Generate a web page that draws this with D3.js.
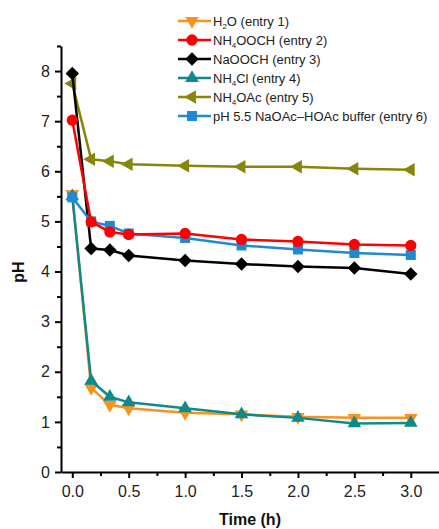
<!DOCTYPE html>
<html lang="en">
<head>
    <meta charset="UTF-8">
    <title>pH vs time</title>
    <style>
        body { margin: 0; background: #fff; }
        svg { display: block; font-family: "Liberation Sans", Arial, sans-serif; }
        .axis path, .axis line { stroke: #000; stroke-width: 2px; }
        .axis text { font-size: 16px; fill: #222; }
        .title { font-size: 16px; font-weight: bold; fill: #111; }
        .legend text { font-size: 13px; fill: #222; }
        .series path.line { fill: none; stroke-width: 2.5px; }
    </style>
</head>
<body>
<div id="chart"></div>
<script src="https://cdn.jsdelivr.net/npm/d3@7"></script>
<script>
    // time points (h)
    const times = [0, 0.167, 0.333, 0.5, 1, 1.5, 2, 2.5, 3];

    // pH values
    const h2o = [5.55, 1.68, 1.34, 1.27, 1.18, 1.15, 1.1, 1.08, 1.08];
    const nh4ooch = [7.02, 4.99, 4.79, 4.74, 4.76, 4.64, 4.6, 4.54, 4.52];
    const naooch = [7.95, 4.46, 4.43, 4.32, 4.22, 4.15, 4.1, 4.07, 3.95];
    const nh4cl = [5.5, 1.82, 1.5, 1.39, 1.27, 1.15, 1.08, 0.97, 0.98];
    const nh4oac = [7.75, 6.24, 6.2, 6.14, 6.11, 6.09, 6.09, 6.05, 6.03];
    const buffer = [5.48, 5.0, 4.91, 4.76, 4.67, 4.52, 4.44, 4.37, 4.33];

    const xTicks = [0, 0.5, 1, 1.5, 2, 2.5, 3];
    const yTicks = [0, 1, 2, 3, 4, 5, 6, 7, 8];

    // legend order; drawing order below
    const series = [
        {name: [["H"], ["2", true], ["O (entry 1)"]], values: h2o, color: "#f7931e", shape: "down"},
        {name: [["NH"], ["4", true], ["OOCH (entry 2)"]], values: nh4ooch, color: "#ff0000", shape: "circle"},
        {name: [["NaOOCH (entry 3)"]], values: naooch, color: "#000000", shape: "diamond"},
        {name: [["NH"], ["4", true], ["Cl (entry 4)"]], values: nh4cl, color: "#0f8a8a", shape: "up"},
        {name: [["NH"], ["4", true], ["OAc (entry 5)"]], values: nh4oac, color: "#86860a", shape: "left"},
        {name: [["pH 5.5 NaOAc\u2013HOAc buffer (entry 6)"]], values: buffer, color: "#1f8ad2", shape: "square"}
    ];
    const drawOrder = [0, 3, 4, 2, 5, 1];

    const width = 439, height = 529;
    const svg = d3.select("#chart").append("svg")
        .attr("width", width)
        .attr("height", height);

    const x = d3.scaleLinear().domain([-0.1, 3.25]).range([61, 439]);
    const y = d3.scaleLinear().domain([0, 8.5]).range([472, 46]);

    function symbolPath(shape) {
        if (shape === "circle") return d3.symbol(d3.symbolCircle, 100)();
        if (shape === "square") return d3.symbol(d3.symbolSquare, 100)();
        if (shape === "diamond") return d3.symbol(d3.symbolSquare, 90)();
        return d3.symbol(d3.symbolTriangle, 80)();
    }
    function symbolRotate(shape) {
        if (shape === "down") return 180;
        if (shape === "left") return -90;
        if (shape === "diamond") return 45;
        return 0;
    }

    // minor ticks first, then major axis
    const xMinor = [0.25, 0.75, 1.25, 1.75, 2.25, 2.75];
    const yMinor = d3.range(0.5, 8.51, 1);

    svg.append("g")
        .attr("class", "axis")
        .attr("transform", "translate(0,472)")
        .call(d3.axisBottom(x).tickValues(xMinor).tickSize(4).tickFormat(""))
        .select(".domain").remove();
    svg.append("g")
        .attr("class", "axis")
        .attr("transform", "translate(61,0)")
        .call(d3.axisLeft(y).tickValues(yMinor).tickSize(4).tickFormat(""))
        .select(".domain").remove();

    svg.append("g")
        .attr("class", "axis")
        .attr("transform", "translate(0,472)")
        .call(d3.axisBottom(x).tickValues(xTicks).tickSize(6).tickSizeOuter(0).tickPadding(8).tickFormat(d3.format(".1f")));
    svg.append("g")
        .attr("class", "axis")
        .attr("transform", "translate(61,0)")
        .call(d3.axisLeft(y).tickValues(yTicks).tickSize(6).tickSizeOuter(0).tickPadding(5).tickFormat(d3.format("d")));

    // series
    const line = d3.line()
        .x((d, i) => x(times[i]))
        .y(d => y(d));

    drawOrder.forEach(k => {
        const s = series[k];
        const g = svg.append("g").attr("class", "series");
        g.append("path")
            .attr("class", "line")
            .attr("stroke", s.color)
            .attr("d", line(s.values));
        g.selectAll("path.mark")
            .data(s.values)
            .enter()
            .append("path")
            .attr("class", "mark")
            .attr("fill", s.color)
            .attr("d", symbolPath(s.shape))
            .attr("transform", (d, i) => "translate(" + x(times[i]) + "," + y(d) + ") rotate(" + symbolRotate(s.shape) + ")");
    });

    // axis titles
    svg.append("text")
        .attr("class", "title")
        .attr("x", 250)
        .attr("y", 525)
        .attr("text-anchor", "middle")
        .text("Time (h)");
    svg.append("text")
        .attr("class", "title")
        .attr("transform", "translate(24,272) rotate(-90)")
        .attr("text-anchor", "middle")
        .text("pH");

    // legend
    const legend = svg.append("g").attr("class", "legend");
    series.forEach((s, i) => {
        const ly = 21 + i * 19;
        const row = legend.append("g");
        row.append("line")
            .attr("x1", 178).attr("x2", 211)
            .attr("y1", ly).attr("y2", ly)
            .attr("stroke", s.color)
            .attr("stroke-width", 2.5);
        row.append("path")
            .attr("fill", s.color)
            .attr("d", symbolPath(s.shape))
            .attr("transform", "translate(192," + ly + ") rotate(" + symbolRotate(s.shape) + ")");
        const t = row.append("text")
            .attr("x", 213)
            .attr("y", ly + 4.5);
        s.name.forEach(part => {
            const ts = t.append("tspan").text(part[0]);
            if (part[1]) {
                ts.attr("font-size", "8px").attr("dy", 3);
            } else if (t.selectAll("tspan").size() > 1) {
                ts.attr("dy", -3);
            }
        });
    });
</script>
</body>
</html>
